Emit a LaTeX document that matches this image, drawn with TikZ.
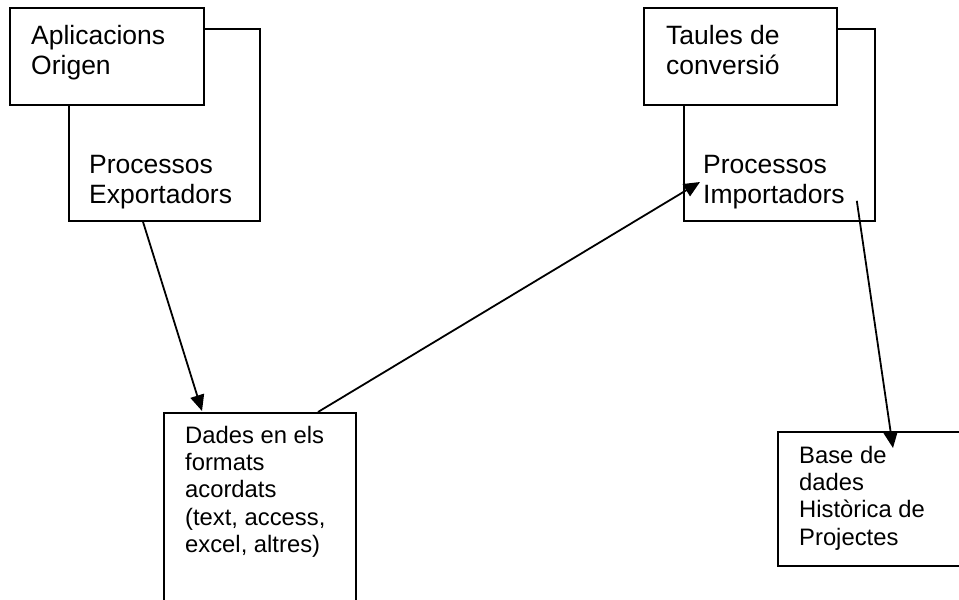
\documentclass[tikz,border=0pt]{standalone}
\usepackage{fontspec}
\setmainfont{Liberation Sans}
\usetikzlibrary{arrows.meta,calc}
\begin{document}
\begin{tikzpicture}[x=1pt,y=-1pt,
  box/.style={draw=black,fill=white,line width=1.8pt,rectangle,inner sep=0pt,anchor=north west},
  % text nodes are placed by the baseline of their last line
  bigtxt/.style={anchor=base west,inner sep=0pt,align=left,font=\fontsize{26.5}{30}\selectfont},
  smalltxt/.style={anchor=base west,inner sep=0pt,align=left,font=\fontsize{23.8}{27.3}\selectfont},
  flow/.style={line width=1.8pt,-{Triangle[length=16pt,width=14pt]}}]
\useasboundingbox[fill=white] (0,0) rectangle (959,600);

% export stage: back box first, front box over it
\node[box,minimum width=191pt,minimum height=192pt] (B) at (68,28) {};
\node[box,minimum width=194pt,minimum height=97pt] (A) at (9,7) {};
\node[bigtxt] (tA) at (31,74) {Aplicacions\\Origen};
\node[bigtxt] (tB) at (89,203) {Processos\\Exportadors};

% import stage
\node[box,minimum width=191pt,minimum height=192pt] (D) at (683,28) {};
\node[box,minimum width=193pt,minimum height=97pt] (C) at (643,7) {};
\node[bigtxt] (tC) at (666,74) {Taules de\\conversió};
\node[bigtxt] (tD) at (703,203) {Processos\\Importadors};

% exchanged data
\node[box,minimum width=192pt,minimum height=220pt] (E) at (163,412) {};
\node[smalltxt] (tE) at (185,552.5) {Dades en els\\formats\\acordats\\(text, access,\\excel, altres)};

% target database
\node[box,minimum width=220pt,minimum height=134pt] (F) at (777,431) {};
\node[smalltxt] (tF) at (799,545) {Base de\\dades\\Històrica de\\Projectes};

% flows
\draw[flow] ($(B.south west)+(75,0)$) -- ($(E.north west)+(39,-1)$);
\draw[flow] ($(E.north west)+(155,0)$) -- ($(D.north west)+(17,154)$);
\draw[flow] ($(D.south east)+(-19,-21)$) -- ($(F.north west)+(116,17)$);
\end{tikzpicture}
\end{document}
